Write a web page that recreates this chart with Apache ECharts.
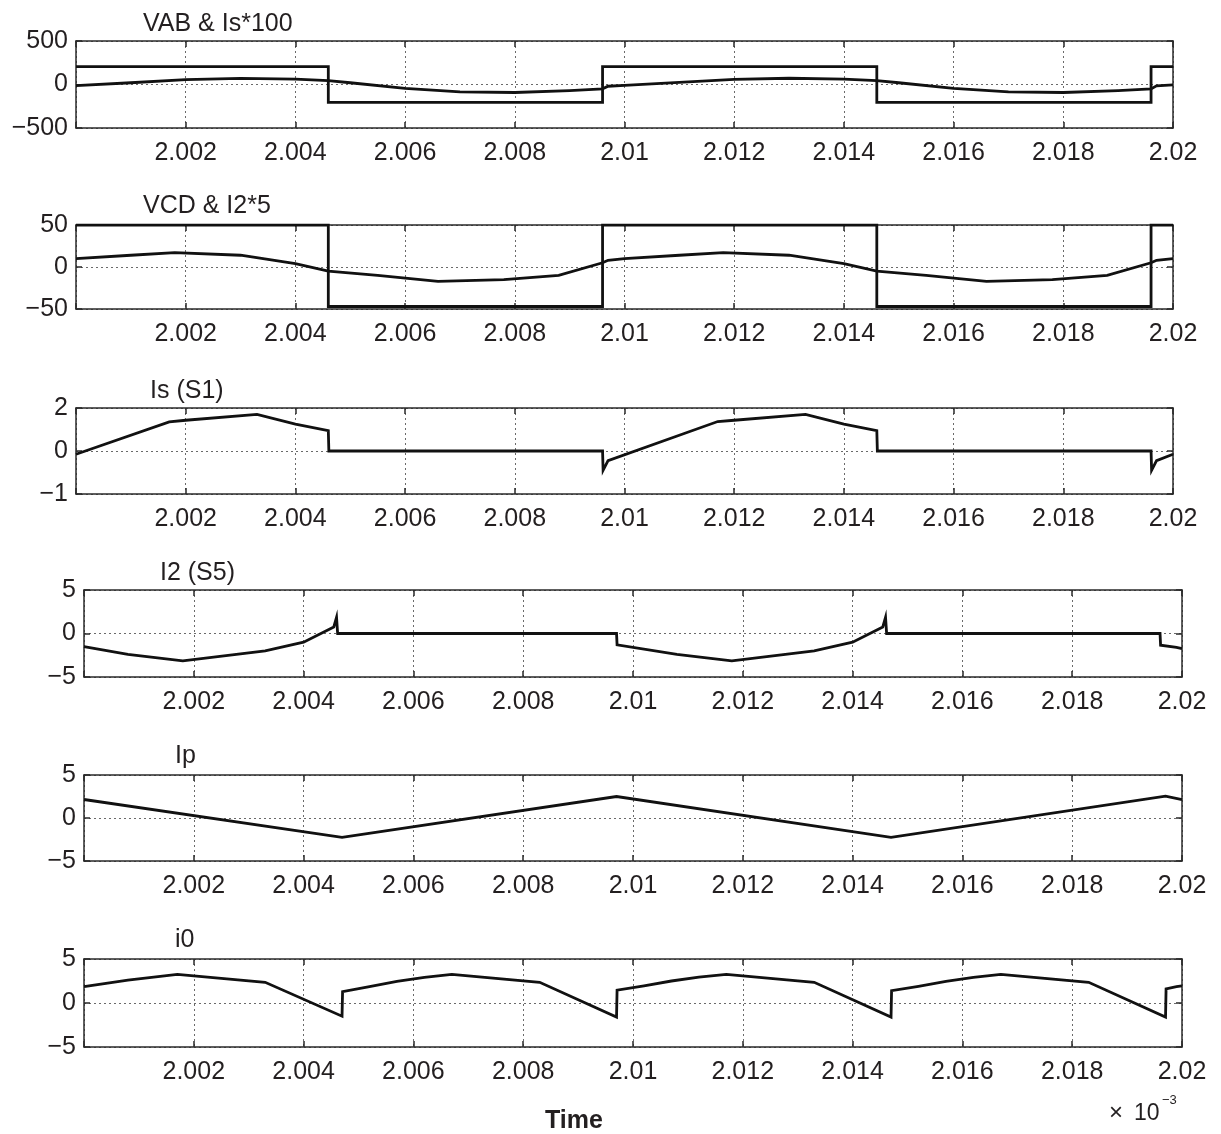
<!DOCTYPE html>
<html><head><meta charset="utf-8">
<script src="https://cdn.jsdelivr.net/npm/echarts@6/dist/echarts.min.js"></script>
<style>html,body{margin:0;padding:0;background:#fff}#c{width:1221px;height:1134px}</style>
</head><body><div id="c"></div>
<script>
// ---------- data ----------
const panelTitles = ['VAB & Is*100', 'VCD & I2*5', 'Is (S1)', 'I2 (S5)', 'Ip', 'i0'];
const xMin = 2.000, xMax = 2.020, xStep = 0.002;
const yRanges = [[-500, 500, 500], [-50, 50, 50], [-2, 2, 2], [-5, 5, 5], [-5, 5, 5], [-5, 5, 5]];
const yTickLabels = [['−500', '0', '500'], ['−50', '0', '50'], ['−1', '0', '2'], ['−5', '0', '5'], ['−5', '0', '5'], ['−5', '0', '5']];
const xAxisTitle = 'Time';
const scaleMark = ['×', '10', '−3'];

const VAB = [[2.000,205],[2.0046,205],[2.0046,-205],[2.0096,-205],[2.0096,205],[2.0146,205],[2.0146,-205],[2.0196,-205],[2.0196,205],[2.020,205]];
const IS100 = [[2.000,-12],[2.001,20],[2.002,55],[2.003,70],[2.004,62],[2.0046,45],[2.005,20],[2.006,-45],[2.007,-85],[2.008,-92],[2.009,-70],[2.0096,-50],[2.0097,-20],[2.010,-10],[2.011,25],[2.012,58],[2.013,72],[2.014,62],[2.0146,45],[2.015,20],[2.016,-45],[2.017,-85],[2.018,-92],[2.019,-70],[2.0196,-50],[2.0197,-15],[2.020,-5]];
const VCD = [[2.000,50],[2.0046,50],[2.0046,-47],[2.0096,-47],[2.0096,50],[2.0146,50],[2.0146,-47],[2.0196,-47],[2.0196,50],[2.020,50]];
const I2X5 = [[2.000,10],[2.001,14],[2.0018,17],[2.003,14],[2.004,4],[2.0046,-5],[2.0055,-10],[2.0066,-17],[2.0078,-15],[2.0088,-10],[2.0096,5],[2.0097,8],[2.010,10],[2.011,14],[2.0118,17],[2.013,14],[2.014,4],[2.0146,-5],[2.0155,-10],[2.0166,-17],[2.0178,-15],[2.0188,-10],[2.0196,5],[2.0197,8],[2.020,10]];
const IS = [[2.000,-0.15],[2.0017,1.35],[2.002,1.43],[2.0033,1.70],[2.004,1.25],[2.0046,0.95],[2.00461,0],[2.0096,0],[2.00961,-0.9],[2.0097,-0.45],[2.0117,1.37],[2.012,1.43],[2.0133,1.70],[2.014,1.25],[2.0146,0.95],[2.01461,0],[2.0196,0],[2.01961,-0.9],[2.0197,-0.45],[2.020,-0.15]];
const I2 = [[2.000,-1.5],[2.0008,-2.4],[2.0018,-3.15],[2.0033,-2.0],[2.004,-1.0],[2.00455,0.75],[2.0046,1.85],[2.00462,0],[2.0097,0],[2.00971,-1.3],[2.0108,-2.4],[2.0118,-3.15],[2.0133,-2.0],[2.014,-1.0],[2.01455,0.75],[2.0146,1.85],[2.01462,0],[2.0196,0],[2.01961,-1.35],[2.0199,-1.6],[2.020,-1.75]];
const IP = [[2.000,2.15],[2.0047,-2.25],[2.0097,2.5],[2.0147,-2.25],[2.0197,2.55],[2.020,2.15]];
const I0 = [[2.000,1.85],[2.0008,2.6],[2.0017,3.25],[2.0033,2.35],[2.0047,-1.5],[2.00471,1.3],[2.0052,1.85],[2.0057,2.45],[2.0062,2.9],[2.0067,3.25],[2.0083,2.35],[2.0097,-1.6],[2.00971,1.45],[2.0102,1.95],[2.0107,2.5],[2.0112,2.95],[2.0117,3.25],[2.0133,2.35],[2.0147,-1.6],[2.01471,1.4],[2.0152,1.9],[2.0157,2.45],[2.0162,2.9],[2.0167,3.25],[2.0183,2.35],[2.0197,-1.6],[2.01971,1.6],[2.0199,1.85],[2.020,1.95]];
const panelSeries = [[VAB, IS100], [VCD, I2X5], [IS], [I2], [IP], [I0]];

// ---------- layout ----------
const gridBoxes = [
  {left: 76, top: 41, width: 1097, height: 87},
  {left: 76, top: 225, width: 1097, height: 84},
  {left: 76, top: 408, width: 1097, height: 86},
  {left: 84, top: 590, width: 1098, height: 87},
  {left: 84, top: 775, width: 1098, height: 86},
  {left: 84, top: 959, width: 1098, height: 88}
];
const titlePos = [[143, 12], [143, 194], [150, 379], [160, 561], [175, 744], [175, 928]];

const FONT = '"Liberation Sans", Arial, Helvetica, sans-serif';
const TXT = '#231f20';
const grids = [], xAxes = [], yAxes = [], series = [], titles = [];
const lineCol = '#2a2a2a';

gridBoxes.forEach((g, i) => {
  grids.push(Object.assign({containLabel: false}, g));
  const tick = {show: true, inside: true, length: 6, lineStyle: {color: lineCol, width: 1.5}};
  const axLine = {show: true, onZero: false, lineStyle: {color: lineCol, width: 1.5}};
  xAxes.push({
    type: 'value', gridIndex: i, min: xMin, max: xMax, interval: xStep, position: 'bottom',
    axisLine: axLine, axisTick: tick,
    axisLabel: {margin: 13, fontSize: 25, color: TXT, fontFamily: FONT,
      formatter: v => Math.abs(v - xMin) < 1e-9 ? '' : String(+v.toFixed(3))},
    splitLine: {show: true, lineStyle: {type: [2, 3], color: '#6a6a6a', width: 1}}
  });
  xAxes.push({
    type: 'value', gridIndex: i, min: xMin, max: xMax, interval: xStep, position: 'top',
    axisLine: axLine, axisTick: tick, axisLabel: {show: false}, splitLine: {show: false}
  });
  const [mn, mx, iv] = yRanges[i];
  yAxes.push({
    type: 'value', gridIndex: i, min: mn, max: mx, interval: iv, position: 'left',
    axisLine: axLine, axisTick: tick,
    axisLabel: {margin: 8, fontSize: 25, color: TXT, fontFamily: FONT,
      formatter: v => yTickLabels[i][Math.round((v - mn) / iv)]},
    splitLine: {show: true, lineStyle: {type: [2, 3], color: '#6a6a6a', width: 1}}
  });
  yAxes.push({
    type: 'value', gridIndex: i, min: mn, max: mx, interval: iv, position: 'right',
    axisLine: axLine, axisTick: tick, axisLabel: {show: false}, splitLine: {show: false}
  });
  panelSeries[i].forEach(d => {
    series.push({
      type: 'line', xAxisIndex: 2 * i, yAxisIndex: 2 * i, data: d,
      showSymbol: false, symbol: 'none', animation: false, silent: true,
      lineStyle: {color: '#111', width: 2.8, join: 'miter'}
    });
  });
  titles.push({
    text: panelTitles[i], left: titlePos[i][0], top: titlePos[i][1], padding: 0,
    textStyle: {fontSize: 25, fontWeight: 'normal', color: TXT, fontFamily: FONT}
  });
});

titles.push({
  text: xAxisTitle, left: 574, top: 1109, textAlign: 'center', padding: 0,
  textStyle: {fontSize: 25, fontWeight: 'bold', color: TXT, fontFamily: FONT}
});

const chart = echarts.init(document.getElementById('c'), null, {renderer: 'canvas'});
chart.setOption({
  backgroundColor: '#fff',
  animation: false,
  title: titles,
  grid: grids,
  xAxis: xAxes,
  yAxis: yAxes,
  series: series,
  graphic: [
    {type: 'text', x: 1109, y: 1101, style: {text: scaleMark[0], fontSize: 24, fontFamily: FONT, fill: TXT}},
    {type: 'text', x: 1134, y: 1102, style: {text: scaleMark[1], fontSize: 23, fontFamily: FONT, fill: TXT}},
    {type: 'text', x: 1162, y: 1094, style: {text: scaleMark[2], fontSize: 13, fontFamily: FONT, fill: TXT}}
  ]
});
</script></body></html>
